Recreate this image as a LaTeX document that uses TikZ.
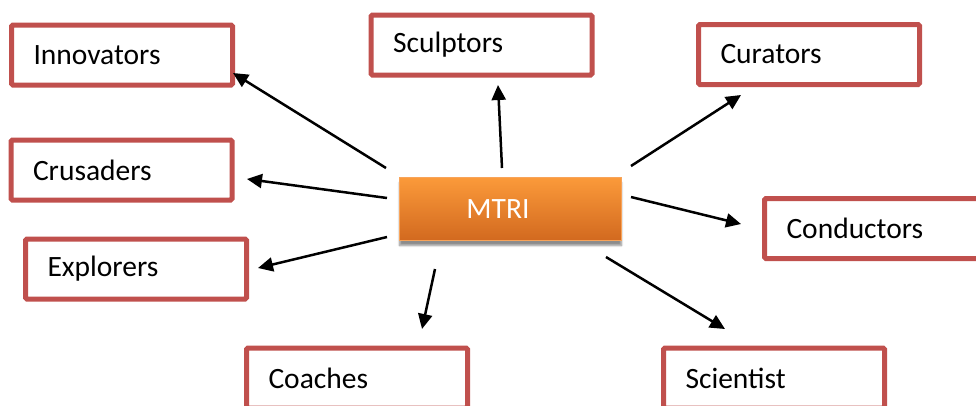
\documentclass[tikz,border=0pt]{standalone}
\usepackage{fontspec}
\setmainfont{Carlito}
\usetikzlibrary{arrows.meta,shadows.blur}
\definecolor{boxred}{HTML}{C0504D}
\definecolor{orgtop}{HTML}{FB9A3A}
\definecolor{orgbot}{HTML}{D2691F}
\definecolor{orgline}{HTML}{F8A45A}
\tikzset{
  role/.style={draw=boxred, line width=5pt, rounded corners=1.5pt, fill=white,
    minimum width=221pt, minimum height=60pt, text width=177pt, inner xsep=22pt,
    inner ysep=0pt, align=left, font=\fontsize{29.5}{34}\selectfont, text=black},
  hub/.style={draw=orgline, line width=1pt, top color=orgtop, bottom color=orgbot,
    minimum width=222pt, minimum height=63pt, inner sep=0pt,
    blur shadow={shadow xshift=0pt, shadow yshift=-5pt, shadow blur steps=6, shadow opacity=45}},
  link/.style={line width=2.5pt, -{Triangle[length=15pt,width=14pt]}}
}
\begin{document}
\begin{tikzpicture}[x=1pt,y=-1pt]
\useasboundingbox (0,0) rectangle (976,405);
\clip (0,0) rectangle (976,405);
\node[role] (innov) at (122,55) {Innovators};
\node[role] (sculpt) at (481.5,45) {Sculptors};
\node[role] (curat) at (809,54.5) {Curators};
\node[role] (crus) at (121.5,170) {Crusaders};
\node[role] (expl) at (136,269) {Explorers};
\node[role] (cond) at (875,228.5) {Conductors};
\node[role] (coach) at (357,378) {Coaches};
\node[role] (sci) at (774,378) {Scientist};
\node[hub] (mtri) at (510.5,209) {};
\node[text=white, font=\fontsize{29.5}{34}\selectfont] (mtritext) at (498,209) {MTRI};
% arrow ends
\coordinate (s1) at (386,168); \coordinate (t1) at (233,73);
\coordinate (s2) at (502,168); \coordinate (t2) at (498,85);
\coordinate (s3) at (631,166); \coordinate (t3) at (741,95);
\coordinate (s4) at (387,198); \coordinate (t4) at (247,179);
\coordinate (s5) at (631,197); \coordinate (t5) at (741,224);
\coordinate (s6) at (387,237); \coordinate (t6) at (258,268);
\coordinate (s7) at (435,269); \coordinate (t7) at (422,329);
\coordinate (s8) at (606,257); \coordinate (t8) at (725,329);
\draw[link] (s1) -- (t1);
\draw[link] (s2) -- (t2);
\draw[link] (s3) -- (t3);
\draw[link] (s4) -- (t4);
\draw[link] (s5) -- (t5);
\draw[link] (s6) -- (t6);
\draw[link] (s7) -- (t7);
\draw[link] (s8) -- (t8);
\end{tikzpicture}
\end{document}
